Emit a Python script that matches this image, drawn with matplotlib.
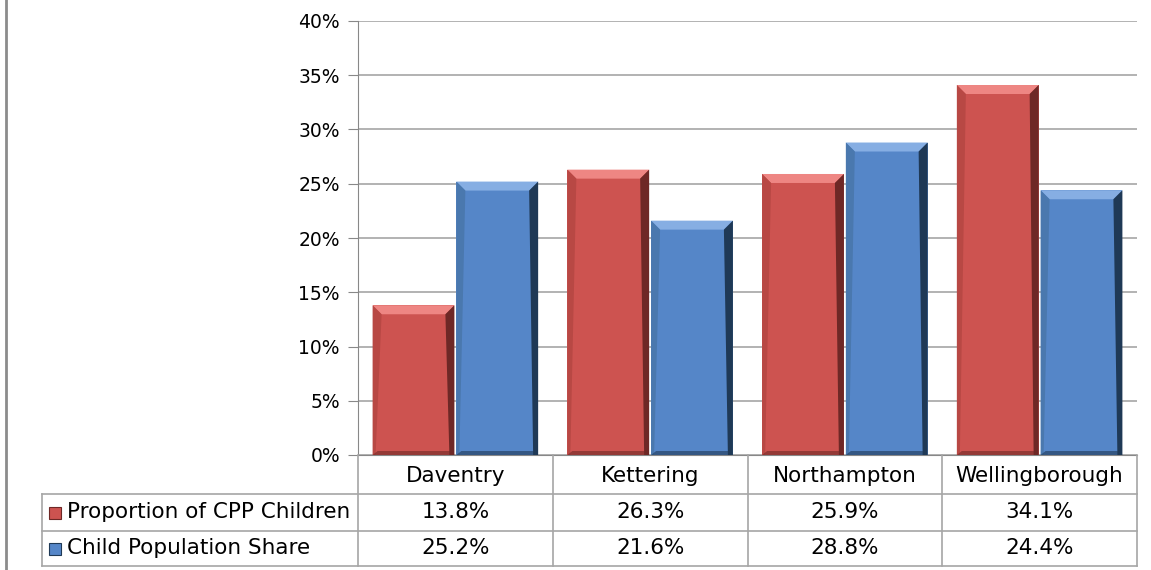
import matplotlib
matplotlib.use("Agg")
import matplotlib.pyplot as plt
from matplotlib.patches import Polygon, Rectangle
from matplotlib.lines import Line2D

categories = ["Daventry", "Kettering", "Northampton", "Wellingborough"]
series_names = ["Proportion of CPP Children", "Child Population Share"]
cpp = [13.8, 26.3, 25.9, 34.1]
pop = [25.2, 21.6, 28.8, 24.4]
cpp_labels = ["13.8%", "26.3%", "25.9%", "34.1%"]
pop_labels = ["25.2%", "21.6%", "28.8%", "24.4%"]

W, H = 1151, 570
fig = plt.figure(figsize=(W / 100, H / 100), dpi=100)
plt.rcParams['font.family'] = ['DejaVu Sans']


def fx(px):
    return px / W


def fy(py):
    return 1 - py / H


ax_l, ax_r, ax_t, ax_b = 358, 1137, 21, 455
ax = fig.add_axes([fx(ax_l), fy(ax_b), fx(ax_r - ax_l), (ax_b - ax_t) / H])
ax.set_xlim(-0.5, 3.5)
ax.set_ylim(0, 40)
ax.set_yticks(range(0, 41, 5))
ax.set_yticklabels([f"{t}%" for t in range(0, 41, 5)], fontsize=13.5)
ax.set_xticks([])
ax.tick_params(axis='y', length=7, color='#888888', pad=6)
ax.grid(axis='y', color='#a6a6a6', linewidth=1.2)
ax.set_axisbelow(True)
for s in ['top', 'right']:
    ax.spines[s].set_visible(False)
ax.spines['left'].set_color('#888888')
ax.spines['bottom'].set_color('#888888')

# bar colours: face, top bevel, right shade, left shade
red = ("#CD5350", "#EE8683", "#6E2826", "#B84844")
blue = ("#5586C8", "#86AEE3", "#1F3956", "#4A78AE")

px_x = 4.0 / (ax_r - ax_l)   # data units per pixel in x
px_y = 40.0 / (ax_b - ax_t)  # data units per pixel in y
bw = 0.42
off = 0.215


def bevel_bar(x, h, cols):
    face, top, right, left = cols
    ax.bar(x, h, width=bw, color=face, edgecolor='none', zorder=2)
    x0, x1 = x - bw / 2, x + bw / 2
    bx = 9 * px_x
    by = 9 * px_y
    rx = 5 * px_x
    ax.add_patch(Polygon([(x0, h), (x1, h), (x1 - bx, h - by), (x0 + bx, h - by)],
                         closed=True, color=top, zorder=3, lw=0))
    ax.add_patch(Polygon([(x1, h), (x1, 0), (x1 - rx, 0), (x1 - bx, h - by)],
                         closed=True, color=right, zorder=3, lw=0))
    ax.add_patch(Polygon([(x0, h), (x0, 0), (x0 + rx * 0.6, 0), (x0 + bx, h - by)],
                         closed=True, color=left, zorder=3, lw=0))
    ax.add_patch(Polygon([(x0, 0), (x1, 0), (x1 - rx, 4 * px_y), (x0 + rx, 4 * px_y)],
                         closed=True, color=right, zorder=3, lw=0, alpha=0.6))


for i in range(len(categories)):
    bevel_bar(i - off, cpp[i], red)
    bevel_bar(i + off, pop[i], blue)

# data table below the axes
line_c = '#a6a6a6'
rows_y = [455, 494, 531, 566]
col_x = [358 + i * (ax_r - ax_l) / 4 for i in range(5)]
tab_left = 42
fs = 15.5


def hline(y, x0, x1):
    fig.add_artist(Line2D([fx(x0), fx(x1)], [fy(y), fy(y)], color=line_c, lw=1.2))


def vline(x, y0, y1):
    fig.add_artist(Line2D([fx(x), fx(x)], [fy(y0), fy(y1)], color=line_c, lw=1.2))


hline(rows_y[1], tab_left, ax_r)
hline(rows_y[2], tab_left, ax_r)
hline(rows_y[3], tab_left, ax_r)
for x in col_x:
    vline(x, rows_y[0], rows_y[3])
vline(tab_left, rows_y[1], rows_y[3])

for i, cat in enumerate(categories):
    cx = (col_x[i] + col_x[i + 1]) / 2
    fig.text(fx(cx), fy((rows_y[0] + rows_y[1]) / 2 + 1), cat,
             ha='center', va='center', fontsize=fs)
    fig.text(fx(cx), fy((rows_y[1] + rows_y[2]) / 2), cpp_labels[i],
             ha='center', va='center', fontsize=fs)
    fig.text(fx(cx), fy((rows_y[2] + rows_y[3]) / 2), pop_labels[i],
             ha='center', va='center', fontsize=fs)

for r, (name, cols) in enumerate(zip(series_names, [red, blue])):
    cy = (rows_y[r + 1] + rows_y[r + 2]) / 2
    fig.add_artist(Rectangle((fx(49), fy(cy + 6)), fx(12), 12 / H,
                             facecolor=cols[0], edgecolor=cols[2], lw=0.8))
    fig.text(fx(67), fy(cy), name, ha='left', va='center', fontsize=fs)

# outer border on the left
fig.add_artist(Line2D([fx(6), fx(6)], [0, 1], color='#8c8c8c', lw=2))

fig.savefig("out.png", dpi=100)
